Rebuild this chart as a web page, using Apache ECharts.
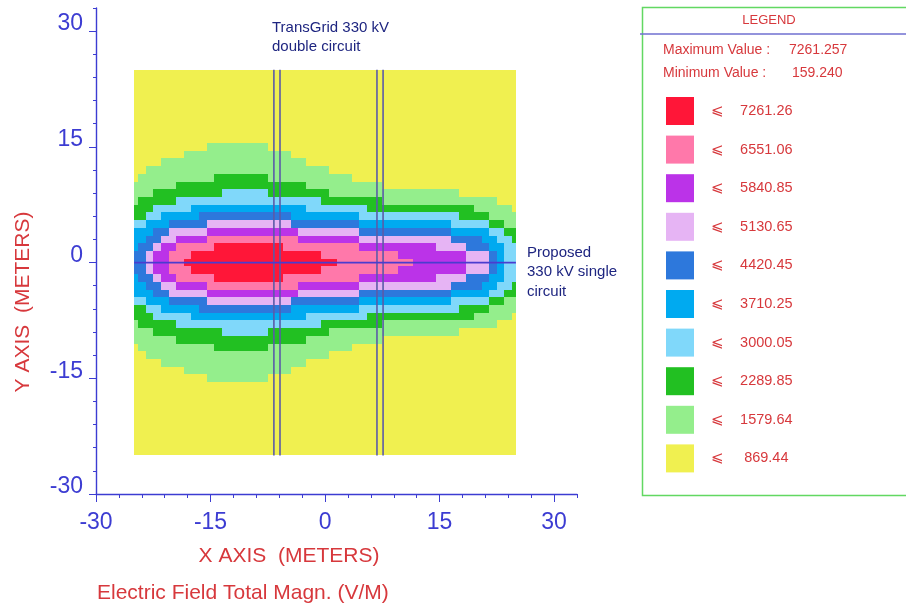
<!DOCTYPE html>
<html>
<head>
<meta charset="utf-8">
<script src="https://cdn.jsdelivr.net/npm/echarts@6/dist/echarts.min.js"></script>
<style>
html,body{margin:0;padding:0;background:#ffffff;}
#chart{width:906px;height:607px;}
</style>
</head>
<body>
<div id="chart"></div>
<script>
// ---- data ----
// cell centres (metres)
const xCells = [-25,-24,-23,-22,-21,-20,-19,-18,-17,-16,-15,-14,-13,-12,-11,-10,-9,-8,-7,-6,-5,-4,-3,-2,-1,0,
                1,2,3,4,5,6,7,8,9,10,11,12,13,14,15,16,17,18,19,20,21,22,23,24,25];
const yCells = [25,24,23,22,21,20,19,18,17,16,15,14,13,12,11,10,9,8,7,6,5,4,3,2,1,0,
                -1,-2,-3,-4,-5,-6,-7,-8,-9,-10,-11,-12,-13,-14,-15,-16,-17,-18,-19,-20,-21,-22,-23,-24,-25];
// class index of each cell, run-length encoded per row ("class x count"), rows follow yCells
const fieldRuns = [
  "0x51","0x51","0x51","0x51","0x51","0x51","0x51","0x51","0x51","0x51",
  "0x10 1x8 0x33",
  "0x7 1x14 0x30",
  "0x4 1x19 0x28",
  "0x2 1x24 0x25",
  "0x1 1x10 2x7 1x11 0x22",
  "1x6 2x17 1x10 0x18",
  "1x3 2x9 3x6 2x8 1x17 0x8",
  "1x1 2x5 3x19 2x8 1x15 0x3",
  "2x3 3x5 4x15 3x8 2x14 1x5 0x1",
  "2x2 3x2 4x5 5x12 4x9 3x13 2x4 1x4",
  "3x2 4x3 5x5 6x11 5x9 4x12 3x5 2x2 1x2",
  "4x3 5x2 6x5 7x12 6x8 5x12 4x5 3x2 2x2",
  "4x2 5x2 6x2 7x4 8x12 7x8 6x12 5x4 4x2 3x2 2x1",
  "4x1 5x2 6x1 7x2 8x5 9x9 8x10 7x10 6x4 5x3 4x2 3x2",
  "5x2 6x1 7x2 8x3 9x17 8x10 7x9 6x3 5x1 4x1 3x2",
  "5x2 6x1 7x2 8x2 9x20 8x10 7x7 6x3 5x1 4x1 3x2",
  "5x2 6x1 7x2 8x3 9x17 8x10 7x9 6x3 5x1 4x1 3x2",
  "4x1 5x2 6x1 7x2 8x5 9x9 8x10 7x10 6x4 5x3 4x2 3x2",
  "4x2 5x2 6x2 7x4 8x12 7x8 6x12 5x4 4x2 3x2 2x1",
  "4x3 5x2 6x5 7x12 6x8 5x12 4x5 3x2 2x2",
  "3x2 4x3 5x5 6x11 5x9 4x12 3x5 2x2 1x2",
  "2x2 3x2 4x5 5x12 4x9 3x13 2x4 1x4",
  "2x3 3x5 4x15 3x8 2x14 1x5 0x1",
  "1x1 2x5 3x19 2x8 1x15 0x3",
  "1x3 2x9 3x6 2x8 1x17 0x8",
  "1x6 2x17 1x10 0x18",
  "0x1 1x10 2x7 1x11 0x22",
  "0x2 1x24 0x25",
  "0x4 1x19 0x28",
  "0x7 1x14 0x30",
  "0x10 1x8 0x33",
  "0x51","0x51","0x51","0x51","0x51","0x51","0x51","0x51","0x51","0x51"
];
// upper limit of each class (V/m), from the legend
const classLimits = [869.44, 1579.64, 2289.85, 3000.05, 3710.25, 4420.45, 5130.65, 5840.85, 6551.06, 7261.26];
const classLabels = ['869.44','1579.64','2289.85','3000.05','3710.25','4420.45','5130.65','5840.85','6551.06','7261.26'];
const minimumValue = 159.240;
const maximumValue = 7261.257;
const fieldExtent = [-25, 25];
const towerLinesX = [-6.7, -5.9, 6.8, 7.6];
const proposedLineY = 0;
const axisMin = -30, axisMax = 33;

// ---- styles ----
const classColors = ['#f0f050','#94ee8c','#22c022','#80d8fa','#00aaf0','#2d78dc','#e6b4f4','#bb33e8','#ff78aa','#ff1638'];
const FONT = 'Liberation Sans, Arial, Helvetica, sans-serif';
const axisBlue = '#3c3cd2';
const redText = '#d7383c';
const navy = '#1e2580';

// ---- build cell table ----
const cells = [];
fieldRuns.forEach((row, r) => {
  let i = 0;
  row.split(' ').forEach(run => {
    const parts = run.split('x');
    const cls = +parts[0], n = +parts[1];
    for (let k = 0; k < n; k++) {
      cells.push([xCells[i], yCells[r], classLimits[cls]]);
      i++;
    }
  });
  if (i !== xCells.length) console.warn('row', yCells[r], 'has', i, 'cells');
});

const pieces = classLimits.map((v, i) => ({
  gt: i === 0 ? undefined : classLimits[i - 1],
  gte: i === 0 ? minimumValue : undefined,
  lte: v,
  color: classColors[i],
  label: '\u2A7D    ' + (classLabels[i].length < 7 ? ' ' : '') + classLabels[i]
}));

const chart = echarts.init(document.getElementById('chart'), null, {renderer: 'canvas'});

const towerSeries = towerLinesX.map(x => ({
  type: 'line', xAxisIndex: 0, yAxisIndex: 0, silent: true,
  data: [[x, fieldExtent[0]], [x, fieldExtent[1]]],
  symbol: 'none', lineStyle: {color: '#5b5ba8', width: 1.6}, z: 5
}));

const option = {
  animation: false,
  backgroundColor: '#ffffff',
  textStyle: {fontFamily: FONT},
  grid: {left: 96, top: 8, width: 481, height: 486, containLabel: false},
  xAxis: [
    {type: 'value', min: axisMin, max: axisMax, interval: 3, position: 'bottom',
     axisLine: {onZero: false, lineStyle: {color: axisBlue, width: 1.4}},
     axisTick: {length: 4, lineStyle: {color: axisBlue}},
     axisLabel: {show: false}, splitLine: {show: false}},
    {type: 'value', min: axisMin, max: axisMax, interval: 15, position: 'bottom',
     axisLine: {show: false, onZero: false},
     axisTick: {length: 8, lineStyle: {color: axisBlue}},
     axisLabel: {color: axisBlue, fontSize: 23, margin: 17, fontFamily: FONT, showMaxLabel: false,
                 formatter: v => (v % 15 === 0 ? String(v) : '')},
     splitLine: {show: false}}
  ],
  yAxis: [
    {type: 'value', min: axisMin, max: axisMax, interval: 3, position: 'left',
     axisLine: {onZero: false, lineStyle: {color: axisBlue, width: 1.4}},
     axisTick: {length: 3, lineStyle: {color: axisBlue}},
     axisLabel: {show: false}, splitLine: {show: false}},
    {type: 'value', min: axisMin, max: axisMax, interval: 15, position: 'left',
     axisLine: {show: false, onZero: false},
     axisTick: {length: 7, lineStyle: {color: axisBlue}},
     axisLabel: {color: axisBlue, fontSize: 23, margin: 13, fontFamily: FONT, showMaxLabel: false,
                 formatter: v => (v % 15 === 0 ? '{up|' + v + '}' : ''),
                 rich: {up: {color: axisBlue, fontSize: 23, fontFamily: FONT, padding: [0, 0, 14, 0]}}},
     splitLine: {show: false}}
  ],
  visualMap: {
    type: 'piecewise', seriesIndex: 0, dimension: 2,
    orient: 'vertical', left: 651, top: 82, align: 'left',
    itemWidth: 28, itemHeight: 28, itemGap: 10.6, itemSymbol: 'rect',
    textGap: 17, selectedMode: false, hoverLink: false,
    textStyle: {color: redText, fontSize: 14.5, fontFamily: FONT},
    pieces: pieces
  },
  series: [
    {
      type: 'custom', xAxisIndex: 0, yAxisIndex: 0, silent: true,
      encode: {x: 0, y: 1},
      data: cells,
      renderItem: function (params, api) {
        const x = api.value(0), y = api.value(1);
        const x0 = Math.max(x - 0.5, fieldExtent[0]), x1 = Math.min(x + 0.5, fieldExtent[1]);
        const y0 = Math.max(y - 0.5, fieldExtent[0]), y1 = Math.min(y + 0.5, fieldExtent[1]);
        const p0 = api.coord([x0, y1]);
        const p1 = api.coord([x1, y0]);
        const l = Math.round(p0[0]), t = Math.round(p0[1]);
        const r = Math.round(p1[0]), b = Math.round(p1[1]);
        return {type: 'rect', shape: {x: l, y: t, width: r - l, height: b - t},
                style: {fill: api.visual('color'), stroke: null}};
      },
      z: 2
    },
    {
      type: 'line', xAxisIndex: 0, yAxisIndex: 0, silent: true,
      data: [[fieldExtent[0], proposedLineY], [fieldExtent[1], proposedLineY]],
      symbol: 'none', lineStyle: {color: '#4a3ccf', width: 1.8}, z: 6
    }
  ].concat(towerSeries),
  graphic: [
    {type: 'rect', left: 640, top: 5, shape: {x: 0, y: 0, width: 300, height: 488},
     style: {fill: 'none', stroke: '#62d862', lineWidth: 1.5}, silent: true},
    {type: 'line', shape: {x1: 640, y1: 34, x2: 906, y2: 34},
     style: {stroke: '#6f6fd0', lineWidth: 1.5}, silent: true},
    {type: 'text', x: 769, y: 20, style: {text: 'LEGEND', fill: redText, font: '13px ' + FONT,
     textAlign: 'center', textVerticalAlign: 'middle'}},
    {type: 'text', x: 663, y: 50, style: {text: 'Maximum Value :', fill: redText, font: '14px ' + FONT,
     textAlign: 'left', textVerticalAlign: 'middle'}},
    {type: 'text', x: 789, y: 50, style: {text: maximumValue.toFixed(3), fill: redText, font: '14px ' + FONT,
     textAlign: 'left', textVerticalAlign: 'middle'}},
    {type: 'text', x: 663, y: 73, style: {text: 'Minimum Value :', fill: redText, font: '14px ' + FONT,
     textAlign: 'left', textVerticalAlign: 'middle'}},
    {type: 'text', x: 792, y: 73, style: {text: minimumValue.toFixed(3), fill: redText, font: '14px ' + FONT,
     textAlign: 'left', textVerticalAlign: 'middle'}},
    {type: 'text', x: 272, y: 28, style: {text: 'TransGrid 330 kV', fill: navy, font: '15px ' + FONT,
     textAlign: 'left', textVerticalAlign: 'middle'}},
    {type: 'text', x: 272, y: 47, style: {text: 'double circuit', fill: navy, font: '15px ' + FONT,
     textAlign: 'left', textVerticalAlign: 'middle'}},
    {type: 'text', x: 527, y: 253, style: {text: 'Proposed', fill: navy, font: '15px ' + FONT,
     textAlign: 'left', textVerticalAlign: 'middle'}},
    {type: 'text', x: 527, y: 272, style: {text: '330 kV single', fill: navy, font: '15px ' + FONT,
     textAlign: 'left', textVerticalAlign: 'middle'}},
    {type: 'text', x: 527, y: 292, style: {text: 'circuit', fill: navy, font: '15px ' + FONT,
     textAlign: 'left', textVerticalAlign: 'middle'}},
    {type: 'text', x: 289, y: 556, style: {text: 'X AXIS  (METERS)', fill: redText, font: '21px ' + FONT,
     textAlign: 'center', textVerticalAlign: 'middle'}},
    {type: 'text', x: 97, y: 593, style: {text: 'Electric Field Total Magn. (V/M)', fill: redText, font: '21px ' + FONT,
     textAlign: 'left', textVerticalAlign: 'middle'}},
    {type: 'text', x: 23, y: 302, rotation: Math.PI / 2,
     style: {text: 'Y AXIS  (METERS)', fill: redText, font: '21px ' + FONT,
     textAlign: 'center', textVerticalAlign: 'middle'}}
  ]
};
chart.setOption(option);
</script>
</body>
</html>
